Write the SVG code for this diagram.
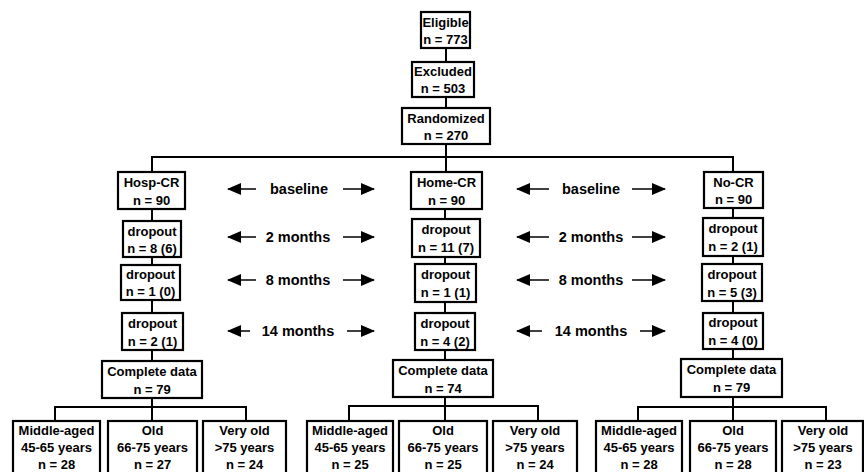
<svg xmlns="http://www.w3.org/2000/svg" width="864" height="472" viewBox="0 0 864 472">
<style>
.box{fill:#fff;stroke:#000;stroke-width:2.2}
.t{font-family:"Liberation Sans",Arial,sans-serif;font-weight:bold;font-size:13px;text-anchor:middle;fill:#000}
.lbl{font-family:"Liberation Sans",Arial,sans-serif;font-weight:bold;font-size:14.5px;text-anchor:middle;fill:#000}
.con{fill:none;stroke:#000;stroke-width:2}
.arr{fill:none;stroke:#000;stroke-width:1.5;marker-end:url(#ah)}
</style>
<defs>
<marker id="ah" markerWidth="14" markerHeight="12" refX="13" refY="6" orient="auto" markerUnits="userSpaceOnUse">
<path d="M0,0 L14,6 L0,12 Z" fill="#000"/>
</marker>
</defs>
<rect width="864" height="472" fill="#fff"/>
<g id="connectors">
<path class="con" d="M446,48 V62 M446,97 V108 M446,144 V172"/>
<path class="con" d="M152,172 V157 H733 V172"/>
<path class="con" d="M152,209 V221 M152,257 V265 M152,300 V313 M152,350 V361 M152,398 V407 M55,421 V407 H246 V421 M152,407 V421"/>
<path class="con" d="M445,209 V219 M445,257 V264 M445,302 V313 M445,350 V360 M445,397 V406 M349,421 V406 H538 V421 M445,406 V421"/>
<path class="con" d="M733,208 V218 M733,256 V264 M733,301 V313 M733,349 V359 M733,397 V407 M638,421 V407 H826 V421 M733,407 V421"/>
<line class="arr" x1="256" y1="189" x2="228" y2="189"/><line class="arr" x1="343" y1="189" x2="374" y2="189"/>
<line class="arr" x1="549" y1="189" x2="517" y2="189"/><line class="arr" x1="632" y1="189" x2="665" y2="189"/>
<line class="arr" x1="256" y1="237" x2="228" y2="237"/><line class="arr" x1="343" y1="237" x2="374" y2="237"/>
<line class="arr" x1="549" y1="237" x2="517" y2="237"/><line class="arr" x1="632" y1="237" x2="665" y2="237"/>
<line class="arr" x1="256" y1="280" x2="228" y2="280"/><line class="arr" x1="343" y1="280" x2="374" y2="280"/>
<line class="arr" x1="549" y1="280" x2="517" y2="280"/><line class="arr" x1="632" y1="280" x2="665" y2="280"/>
<line class="arr" x1="250" y1="331" x2="228" y2="331"/><line class="arr" x1="347" y1="331" x2="374" y2="331"/>
<line class="arr" x1="542" y1="331" x2="517" y2="331"/><line class="arr" x1="640" y1="331" x2="665" y2="331"/>
</g>
<g id="labels">
<text class="lbl" x="299" y="194">baseline</text>
<text class="lbl" x="591" y="194">baseline</text>
<text class="lbl" x="298" y="242">2 months</text>
<text class="lbl" x="591" y="242">2 months</text>
<text class="lbl" x="298" y="285">8 months</text>
<text class="lbl" x="591" y="285">8 months</text>
<text class="lbl" x="298" y="336">14 months</text>
<text class="lbl" x="591" y="336">14 months</text>
</g>
<g id="eligible"><rect class="box" x="421" y="12" width="49" height="36"/><text class="t" x="445.5" y="27">Eligible</text><text class="t" x="445.5" y="44">n = 773</text></g>
<g id="excluded"><rect class="box" x="412" y="62" width="62" height="35"/><text class="t" x="443" y="76">Excluded</text><text class="t" x="443" y="93">n = 503</text></g>
<g id="randomized"><rect class="box" x="402" y="108" width="88" height="36"/><text class="t" x="446" y="123">Randomized</text><text class="t" x="446" y="140">n = 270</text></g>

<g id="hosp-cr"><rect class="box" x="118" y="172" width="67" height="37"/><text class="t" x="151.5" y="187">Hosp-CR</text><text class="t" x="151.5" y="205">n = 90</text></g>
<g id="hosp-d2"><rect class="box" x="123" y="221" width="58" height="36"/><text class="t" x="152" y="236">dropout</text><text class="t" x="152" y="253">n = 8 (6)</text></g>
<g id="hosp-d8"><rect class="box" x="121" y="265" width="59" height="35"/><text class="t" x="150.5" y="279">dropout</text><text class="t" x="150.5" y="296">n = 1 (0)</text></g>
<g id="hosp-d14"><rect class="box" x="122" y="313" width="61" height="37"/><text class="t" x="152.5" y="328">dropout</text><text class="t" x="152.5" y="346">n = 2 (1)</text></g>
<g id="hosp-complete"><rect class="box" x="102" y="361" width="100" height="37"/><text class="t" x="152" y="376">Complete data</text><text class="t" x="152" y="394">n = 79</text></g>
<g id="hosp-middle"><rect class="box" x="13" y="421" width="87" height="54"/><text class="t" x="56.5" y="435">Middle-aged</text><text class="t" x="56.5" y="452">45-65 years</text><text class="t" x="56.5" y="469">n = 28</text></g>
<g id="hosp-old"><rect class="box" x="108" y="421" width="89" height="54"/><text class="t" x="152.5" y="435">Old</text><text class="t" x="152.5" y="452">66-75 years</text><text class="t" x="152.5" y="469">n = 27</text></g>
<g id="hosp-veryold"><rect class="box" x="203" y="421" width="83" height="54"/><text class="t" x="244.5" y="435">Very old</text><text class="t" x="244.5" y="452">&gt;75 years</text><text class="t" x="244.5" y="469">n = 24</text></g>

<g id="home-cr"><rect class="box" x="411" y="172" width="71" height="37"/><text class="t" x="446.5" y="187">Home-CR</text><text class="t" x="446.5" y="205">n = 90</text></g>
<g id="home-d2"><rect class="box" x="412" y="219" width="68" height="38"/><text class="t" x="446" y="234">dropout</text><text class="t" x="446" y="252">n = 11 (7)</text></g>
<g id="home-d8"><rect class="box" x="415" y="264" width="61" height="38"/><text class="t" x="445.5" y="279">dropout</text><text class="t" x="445.5" y="297">n = 1 (1)</text></g>
<g id="home-d14"><rect class="box" x="415" y="313" width="60" height="37"/><text class="t" x="445" y="328">dropout</text><text class="t" x="445" y="346">n = 4 (2)</text></g>
<g id="home-complete"><rect class="box" x="393" y="360" width="100" height="37"/><text class="t" x="443" y="375">Complete data</text><text class="t" x="443" y="393">n = 74</text></g>
<g id="home-middle"><rect class="box" x="307" y="421" width="86" height="54"/><text class="t" x="350" y="435">Middle-aged</text><text class="t" x="350" y="452">45-65 years</text><text class="t" x="350" y="469">n = 25</text></g>
<g id="home-old"><rect class="box" x="399" y="421" width="88" height="54"/><text class="t" x="443" y="435">Old</text><text class="t" x="443" y="452">66-75 years</text><text class="t" x="443" y="469">n = 25</text></g>
<g id="home-veryold"><rect class="box" x="493" y="421" width="84" height="54"/><text class="t" x="535" y="435">Very old</text><text class="t" x="535" y="452">&gt;75 years</text><text class="t" x="535" y="469">n = 24</text></g>

<g id="no-cr"><rect class="box" x="704" y="172" width="59" height="36"/><text class="t" x="733.5" y="187">No-CR</text><text class="t" x="733.5" y="204">n = 90</text></g>
<g id="no-d2"><rect class="box" x="703" y="218" width="60" height="38"/><text class="t" x="733" y="233">dropout</text><text class="t" x="733" y="251">n = 2 (1)</text></g>
<g id="no-d8"><rect class="box" x="702" y="264" width="60" height="37"/><text class="t" x="732" y="279">dropout</text><text class="t" x="732" y="297">n = 5 (3)</text></g>
<g id="no-d14"><rect class="box" x="703" y="313" width="60" height="36"/><text class="t" x="733" y="327">dropout</text><text class="t" x="733" y="345">n = 4 (0)</text></g>
<g id="no-complete"><rect class="box" x="681" y="359" width="101" height="38"/><text class="t" x="731.5" y="374">Complete data</text><text class="t" x="731.5" y="392">n = 79</text></g>
<g id="no-middle"><rect class="box" x="596" y="421" width="86" height="54"/><text class="t" x="639" y="435">Middle-aged</text><text class="t" x="639" y="452">45-65 years</text><text class="t" x="639" y="469">n = 28</text></g>
<g id="no-old"><rect class="box" x="690" y="421" width="86" height="54"/><text class="t" x="733" y="435">Old</text><text class="t" x="733" y="452">66-75 years</text><text class="t" x="733" y="469">n = 28</text></g>
<g id="no-veryold"><rect class="box" x="782" y="421" width="81" height="54"/><text class="t" x="823" y="435">Very old</text><text class="t" x="823" y="452">&gt;75 years</text><text class="t" x="823" y="469">n = 23</text></g>
</svg>
